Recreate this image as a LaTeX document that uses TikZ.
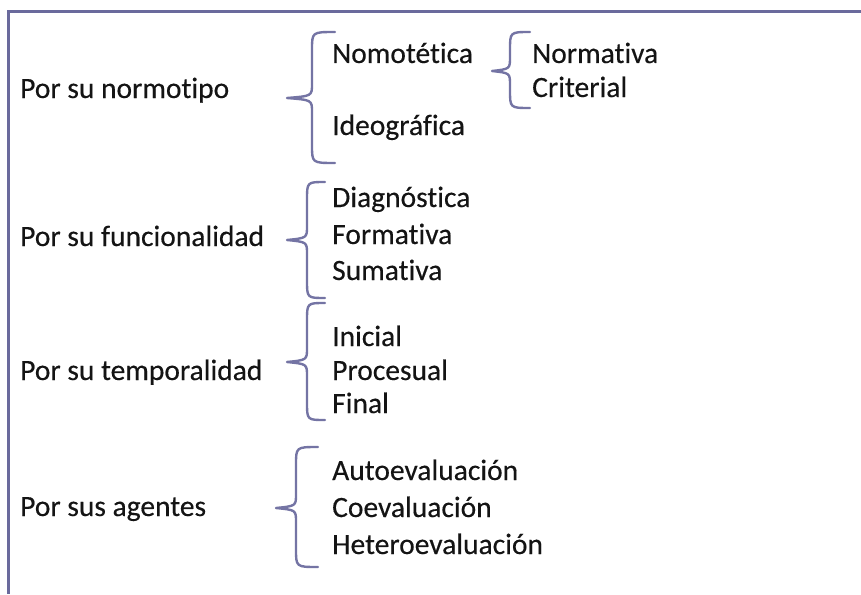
\documentclass[tikz,border=0pt]{standalone}
\usepackage{fontspec}
\setmainfont{Carlito}[Ligatures=NoCommon]
\newfontfamily\lblfont{Carlito}[Ligatures=NoCommon,FakeBold=0.3]
\definecolor{framec}{HTML}{6A6A9C}
\definecolor{bracec}{HTML}{7474A4}
\definecolor{txt}{HTML}{141414}
\newcommand{\mybrace}[6]{% xe, xv, xt, ytop, ymid, ybot
  \draw[bracebox] (#1,#4) .. controls (#2,#4) .. (#2,#4+18) -- (#2,#5-14)
    .. controls (#2,#5-2) .. (#3,#5) .. controls (#2,#5+2) .. (#2,#5+14)
    -- (#2,#6-18) .. controls (#2,#6) .. (#1,#6);}
\begin{document}
\begin{tikzpicture}[x=1pt,y=-1pt,
  lbl/.style={anchor=base west,inner sep=0pt,text=txt,font=\lblfont\fontsize{29.5}{35}\selectfont},
  bracebox/.style={draw=bracec,line width=2.4pt,line cap=round,line join=round},
  framebox/.style={draw=framec,line width=3pt}]
\useasboundingbox (0,0) rectangle (861,594);
\fill[white] (0,0) rectangle (861,594);
\draw[framebox] (861,12) -- (8,12) -- (8,594);
% left labels
\node[lbl] (n1) at (20,98) {Por su normotipo};
\node[lbl] (n2) at (20,246) {Por su funcionalidad};
\node[lbl] (n3) at (20,380) {Por su temporalidad};
\node[lbl] (n4) at (20,516) {Por sus agentes};
% items
\node[lbl] (a1) at (332,63) {Nomotética};
\node[lbl] (a2) at (332,135) {Ideográfica};
\node[lbl] (b1) at (532,63) {Normativa};
\node[lbl] (b2) at (532,97) {Criterial};
\node[lbl] (c1) at (332,207) {Diagnóstica};
\node[lbl] (c2) at (332,244) {Formativa};
\node[lbl] (c3) at (332,280) {Sumativa};
\node[lbl] (d1) at (332,346) {Inicial};
\node[lbl] (d2) at (332,380) {Procesual};
\node[lbl] (d3) at (332,413) {Final};
\node[lbl] (e1) at (332,480) {Autoevaluación};
\node[lbl] (e2) at (332,517) {Coevaluación};
\node[lbl] (e3) at (332,554) {Heteroevaluación};
% braces
\mybrace{335}{312}{287}{32}{98}{163}
\mybrace{530}{510}{492}{32}{71}{108}
\mybrace{325}{307}{287}{182}{240}{298}
\mybrace{325}{307}{287}{303}{362}{420}
\mybrace{318}{296}{276}{447}{508}{567}
\end{tikzpicture}
\end{document}
